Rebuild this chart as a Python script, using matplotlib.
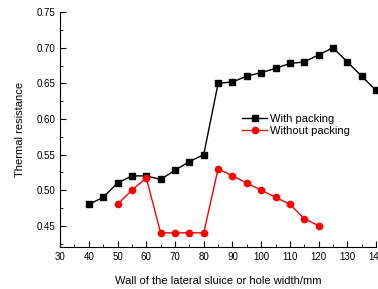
import matplotlib.pyplot as plt
from matplotlib.ticker import MultipleLocator

plt.rcParams['font.family'] = ['Liberation Sans', 'DejaVu Sans']

# Data
x_with = [40, 45, 50, 55, 60, 65, 70, 75, 80, 85, 90, 95, 100, 105, 110,
          115, 120, 125, 130, 135, 140]
y_with = [0.48, 0.49, 0.51, 0.52, 0.52, 0.515, 0.528, 0.54, 0.55, 0.65, 0.652,
          0.66, 0.665, 0.671, 0.678, 0.68, 0.69, 0.70, 0.68, 0.66, 0.64]
x_without = [50, 55, 60, 65, 70, 75, 80, 85, 90, 95, 100, 105, 110, 115, 120]
y_without = [0.48, 0.50, 0.517, 0.44, 0.44, 0.44, 0.44, 0.53, 0.52, 0.51,
             0.50, 0.49, 0.48, 0.46, 0.45]

fig = plt.figure(figsize=(3.78, 2.89), dpi=100)
ax = fig.add_axes([0.159, 0.145, 0.836, 0.813])

ax.plot(x_with, y_with, color='black', marker='s', markersize=4,
        linewidth=1, label='With packing', clip_on=False)
ax.plot(x_without, y_without, color='red', marker='o', markersize=4.5,
        linewidth=1, label='Without packing', clip_on=False)

ax.set_xlim(30, 140)
ax.set_ylim(0.42, 0.75)
ax.xaxis.set_major_locator(MultipleLocator(10))
ax.xaxis.set_minor_locator(MultipleLocator(5))
ax.yaxis.set_minor_locator(MultipleLocator(0.025))
ax.set_yticks([0.45, 0.50, 0.55, 0.60, 0.65, 0.70, 0.75])
ax.yaxis.set_major_formatter(plt.FormatStrFormatter('%.2f'))

ax.spines['top'].set_visible(False)
ax.spines['right'].set_visible(False)
ax.tick_params(which='both', direction='in', labelsize=7, colors='black')
ax.tick_params(which='major', length=4)
ax.tick_params(which='minor', length=2)

ax.set_xlabel('Wall of the lateral sluice or hole width/mm', fontsize=8, labelpad=10)
ax.set_ylabel('Thermal resistance', fontsize=8, labelpad=8)

ax.legend(loc='upper left', bbox_to_anchor=(0.545, 0.61), frameon=False,
          fontsize=8, handlelength=2.2, handletextpad=0.3, labelspacing=0.2)

fig.savefig('out.png', dpi=100)
